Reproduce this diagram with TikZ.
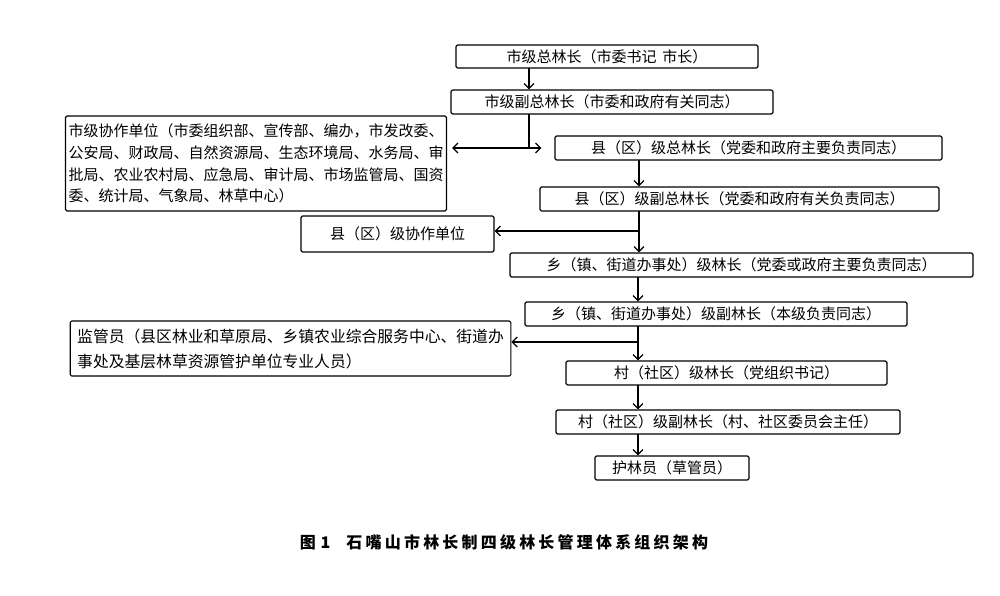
\documentclass[tikz,border=0pt]{standalone}
\usepackage{fontspec}
\setmainfont{Noto Sans CJK SC}
\newfontfamily\capfont[LetterSpace=20]{Noto Sans CJK SC}
\usetikzlibrary{arrows.meta}
\begin{document}
\begin{tikzpicture}[x=1pt,y=-1pt, font=\fontsize{15}{21.7}\selectfont, line join=round, line cap=round,
  >={Straight Barb[length=5pt,width=10pt,line width=1.3pt]},
  lk/.style={draw, line width=1.1pt, rounded corners=1.5pt, inner sep=0pt, minimum height=24},
  unit/.style={lk, align=left, inner xsep=3pt}]
	\useasboundingbox (0,0) rectangle (1000,596);
	% main line of Linzhang levels
	\node[lk, minimum width=302, minimum height=23] (b1) at (607,56.5) {市级总林长（市委书记\hspace{0.4em}市长）};
	\node[lk, minimum width=322] (b2) at (612,102) {市级副总林长（市委和政府有关同志）};
	\node[lk, minimum width=387] (b3) at (748.5,148) {县（区）级总林长（党委和政府主要负责同志）};
	\node[lk, minimum width=399] (b4) at (739.5,199) {县（区）级副总林长（党委和政府有关负责同志）};
	\node[lk, minimum width=463] (b5) at (741.5,265) {乡（镇、街道办事处）级林长（党委或政府主要负责同志）};
	\node[lk, minimum width=382] (b6) at (716,314) {乡（镇、街道办事处）级副林长（本级负责同志）};
	\node[lk, minimum width=321] (b7) at (726.5,373) {村（社区）级林长（党组织书记）};
	\node[lk, minimum width=344] (b8) at (728,422) {村（社区）级副林长（村、社区委员会主任）};
	\node[lk, minimum width=154] (b9) at (672,468) {护林员（草管员）};
	% units on the left
	\node[unit, minimum height=95] (xz) at (256,163.5) {市级协作单位（市委组织部、宣传部、编办，市发改委、\\公安局、财政局、自然资源局、生态环境局、水务局、审\\批局、农业农村局、应急局、审计局、市场监管局、国资\\委、统计局、气象局、林草中心）};
	\node[lk, minimum width=193, minimum height=36] (xq) at (397.5,234) {县（区）级协作单位};
	\node[unit, inner xsep=7pt, minimum height=55, font=\fontsize{15.8}{25}\selectfont] (jg) at (290.5,348.5) {监管员（县区林业和草原局、乡镇农业综合服务中心、街道办\\事处及基层林草资源管护单位专业人员）};
	\coordinate (j1) at (529,148);
	\coordinate (j2) at (639,231);
	\coordinate (j3) at (638,342);
	\begin{scope}[line width=1.1pt]
	\draw[->] (b1.south -| j1) -- (b2.north -| j1);
	\draw (b2.south -| j1) -- (j1);
	\draw[<->] ([xshift=5]xz.east |- j1) -- ([xshift=-13]b3.west);
	\draw[->] (b3.south -| j2) -- (b4.north -| j2);
	\draw[->] (b4.south -| j2) -- (b5.north -| j2);
	\draw[->] (j2) -- (xq.east |- j2);
	\draw[->] (b5.south -| j3) -- (b6.north -| j3);
	\draw[->] (b6.south -| j3) -- (b7.north -| j3);
	\draw[->] (j3) -- (jg.east |- j3);
	\draw[->] (b7.south -| j3) -- (b8.north -| j3);
	\draw[->] (b8.south -| j3) -- (b9.north -| j3);
	\end{scope}
	\node[font=\capfont\bfseries\fontsize{16}{20}\selectfont] (cap) at (504,542) {图\hspace{0.3em}1\hspace{1em}石嘴山市林长制四级林长管理体系组织架构};
\end{tikzpicture}
\end{document}
